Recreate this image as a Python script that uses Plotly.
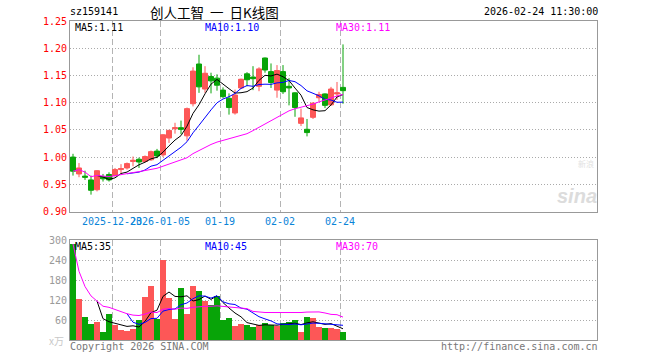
import plotly.graph_objects as go
import pandas as pd

# ---------------- data ----------------
dates = ["2025-12-12", "2025-12-15", "2025-12-16", "2025-12-17", "2025-12-18", "2025-12-19",
         "2025-12-22", "2025-12-23", "2025-12-24", "2025-12-25", "2025-12-26", "2025-12-29",
         "2025-12-30", "2025-12-31", "2026-01-02", "2026-01-05", "2026-01-06", "2026-01-07",
         "2026-01-08", "2026-01-09", "2026-01-12", "2026-01-13", "2026-01-14", "2026-01-15",
         "2026-01-16", "2026-01-19", "2026-01-20", "2026-01-21", "2026-01-22", "2026-01-23",
         "2026-01-26", "2026-01-27", "2026-01-28", "2026-01-29", "2026-01-30", "2026-02-02",
         "2026-02-03", "2026-02-04", "2026-02-05", "2026-02-06", "2026-02-09", "2026-02-10",
         "2026-02-11", "2026-02-12", "2026-02-13", "2026-02-24"]

opens = [1.000, 0.969, 0.965, 0.958, 0.940, 0.964, 0.968, 0.966, 0.977, 0.980,
         0.992, 0.996, 0.992, 0.995, 1.011, 1.004, 1.035, 1.052, 1.054, 1.039,
         1.098, 1.171, 1.125, 1.148, 1.145, 1.123, 1.108, 1.081, 1.127, 1.153,
         1.147, 1.130, 1.182, 1.157, 1.123, 1.157, 1.130, 1.118, 1.062, 1.051,
         1.073, 1.109, 1.116, 1.096, 1.116, 1.128]
highs = [1.006, 0.989, 0.975, 0.966, 0.976, 0.969, 0.972, 0.980, 0.987, 0.990,
         1.001, 0.999, 1.003, 1.012, 1.015, 1.042, 1.050, 1.063, 1.067, 1.091,
         1.165, 1.188, 1.167, 1.155, 1.152, 1.128, 1.117, 1.124, 1.144, 1.156,
         1.167, 1.165, 1.183, 1.172, 1.169, 1.169, 1.145, 1.119, 1.089, 1.070,
         1.101, 1.120, 1.117, 1.129, 1.138, 1.207]
lows = [0.966, 0.963, 0.958, 0.931, 0.937, 0.955, 0.955, 0.964, 0.970, 0.977,
        0.983, 0.980, 0.990, 0.993, 0.998, 1.000, 1.026, 1.043, 1.042, 1.030,
        1.093, 1.118, 1.118, 1.117, 1.122, 1.108, 1.078, 1.078, 1.125, 1.130,
        1.123, 1.121, 1.155, 1.127, 1.109, 1.116, 1.095, 1.074, 1.057, 1.038,
        1.070, 1.102, 1.090, 1.094, 1.105, 1.098]
closes = [0.974, 0.980, 0.963, 0.939, 0.975, 0.960, 0.958, 0.977, 0.979, 0.988,
          0.994, 0.991, 1.001, 1.010, 1.002, 1.041, 1.049, 1.054, 1.051, 1.089,
          1.158, 1.129, 1.154, 1.140, 1.132, 1.111, 1.091, 1.114, 1.143, 1.142,
          1.144, 1.162, 1.160, 1.137, 1.159, 1.120, 1.127, 1.091, 1.072, 1.045,
          1.099, 1.115, 1.095, 1.125, 1.118, 1.122]
volumes = [288, 124, 69, 48, 55, 24, 78, 45, 30, 27,
           33, 60, 129, 162, 63, 240, 126, 63, 156, 78,
           162, 147, 117, 105, 132, 60, 66, 42, 48, 45,
           39, 45, 51, 45, 42, 51, 54, 60, 24, 69,
           66, 39, 36, 36, 33, 24]

tick_idx = [7, 15, 25, 35, 45]
tick_labels = ["2025-12-23", "2026-01-05", "01-19", "02-02", "02-24"]
price_ticks = [0.90, 0.95, 1.00, 1.05, 1.10, 1.15, 1.20, 1.25]
volume_ticks = [60, 120, 180, 240, 300]

symbol = "sz159141"
title_text = "创人工智\u00a0 一\u00a0 日K线图"
timestamp = "2026-02-24 11:30:00"
ma_price_labels = ["MA5:1.11", "MA10:1.10", "MA30:1.11"]
ma_volume_labels = ["MA5:35", "MA10:45", "MA30:70"]

# ---------------- derived ----------------
x = list(range(len(dates)))
c = pd.Series(closes)
v = pd.Series(volumes)
ma5 = c.rolling(5).mean()
ma10 = c.rolling(10).mean()
ma30 = c.rolling(30, min_periods=1).mean()
vma5 = v.rolling(5).mean()
vma10 = v.rolling(10).mean()
vma30 = v.rolling(30, min_periods=1).mean()

RED = "#fd5757"
GREEN = "#08a408"
bar_colors = [RED if cl >= op else GREEN for op, cl in zip(opens, closes)]

MONO = "DejaVu Sans Mono"

fig = go.Figure()
fig.add_trace(go.Candlestick(
    x=x, open=opens, high=highs, low=lows, close=closes,
    increasing=dict(line=dict(color=RED, width=1), fillcolor=RED),
    decreasing=dict(line=dict(color=GREEN, width=1), fillcolor=GREEN),
    whiskerwidth=0, xaxis="x", yaxis="y", showlegend=False, hoverinfo="skip"))
for s, col in [(ma5, "#000000"), (ma10, "#0000ff"), (ma30, "#ff00ff")]:
    fig.add_trace(go.Scatter(x=x, y=s, mode="lines", line=dict(color=col, width=1),
                             xaxis="x", yaxis="y", showlegend=False, hoverinfo="skip"))

fig.add_trace(go.Bar(x=x, y=volumes, marker=dict(color=bar_colors, line=dict(width=0)),
                     width=0.84, xaxis="x2", yaxis="y2", showlegend=False, hoverinfo="skip"))
for s, col in [(vma5, "#000000"), (vma10, "#0000ff"), (vma30, "#ff00ff")]:
    fig.add_trace(go.Scatter(x=x, y=s, mode="lines", line=dict(color=col, width=1),
                             xaxis="x2", yaxis="y2", showlegend=False, hoverinfo="skip"))

# ---------------- layout ----------------
L, R, T, B = 70, 63, 21, 20
W, H = 660, 360
PW, PH = W - L - R, H - T - B


def px(xp):
    return (xp - L) / PW


def py(yp):
    return (H - B - yp) / PH


xr = [-0.5, (PW / 6.0) - 0.5]
grid_x = [i - 0.5 for i in tick_idx]

common_x = dict(range=xr, showline=True, mirror=True, linecolor="#999999", linewidth=1,
                showgrid=True, gridcolor="#b4b4b4", griddash="6px,3px", gridwidth=1,
                zeroline=False, ticks="", tickmode="array", tickvals=grid_x, automargin=False)

fig.update_layout(
    width=W, height=H, margin=dict(l=L, r=R, t=T, b=B, autoexpand=False),
    paper_bgcolor="white", plot_bgcolor="white",
    boxgap=0.17, boxgroupgap=0,
    bargap=0,
    xaxis=dict(**common_x, domain=[0, 1], anchor="y", ticktext=tick_labels, tickangle=0,
               tickfont=dict(family=MONO, size=10, color="#0a84d8"),
               rangeslider=dict(visible=False)),
    yaxis=dict(domain=[py(211.5), 1], range=[0.90, 1.25], anchor="x", automargin=False,
               showline=True, mirror=True, linecolor="#999999", linewidth=1,
               tickmode="array", tickvals=price_ticks,
               ticktext=["%.2f" % t for t in price_ticks],
               tickfont=dict(family=MONO, size=10, color="#ff0000"),
               showgrid=True, gridcolor="#aaaaaa", griddash="1px,2px", zeroline=False, ticks=""),
    xaxis2=dict(**common_x, domain=[0, 1], anchor="y2", showticklabels=False, matches="x"),
    yaxis2=dict(domain=[0, py(240)], range=[0, 300], anchor="x2", automargin=False,
                showline=True, mirror=True, linecolor="#999999", linewidth=1,
                tickmode="array", tickvals=volume_ticks,
                ticktext=[str(t) for t in volume_ticks],
                tickfont=dict(family=MONO, size=10, color="#9a9a9a"),
                showgrid=True, gridcolor="#aaaaaa", griddash="1px,2px", zeroline=False, ticks=""),
)

ann = []


def add(text, xp, yp, color="#000000", size=10, xanchor="left", family=MONO, **kw):
    ann.append(dict(text=text, x=px(xp), y=py(yp), xref="paper", yref="paper",
                    xanchor=xanchor, yanchor="middle", showarrow=False,
                    font=dict(family=family, size=size, color=color), **kw))


add(symbol, 68, 12, size=10)
add(title_text, 214, 12, size=13.5, xanchor="center", family="Noto Sans CJK SC")
add(timestamp, 600, 12, size=10, xanchor="right")
for lab, xp, col in zip(ma_price_labels, [73, 203, 334], ["#000000", "#0000ff", "#ff00ff"]):
    add(lab, xp, 27.5, color=col, size=10)
for lab, xp, col in zip(ma_volume_labels, [73, 203, 334], ["#000000", "#0000ff", "#ff00ff"]):
    add(lab, xp, 246.5, color=col, size=10)
add("x万", 66, 341, color="#c8c8c8", size=10, xanchor="right", family="Noto Sans CJK SC")
add("Copyright 2026 SINA.COM", 68, 346.5, color="#777777", size=10)
add("http://finance.sina.com.cn", 600, 346.5, color="#777777", size=10, xanchor="right")
add("新浪", 586, 163, color="#e2e2e2", size=8, xanchor="center", family="Noto Sans CJK SC")
add("<b><i>sina</i></b>", 577, 196, color="#dcdcdc", size=20, xanchor="center", family="Arial")

fig.update_layout(annotations=ann)
fig.write_html("out.html", config={"displayModeBar": False, "staticPlot": True},
               post_script="document.body.style.margin='0';document.body.style.overflow='hidden';")
